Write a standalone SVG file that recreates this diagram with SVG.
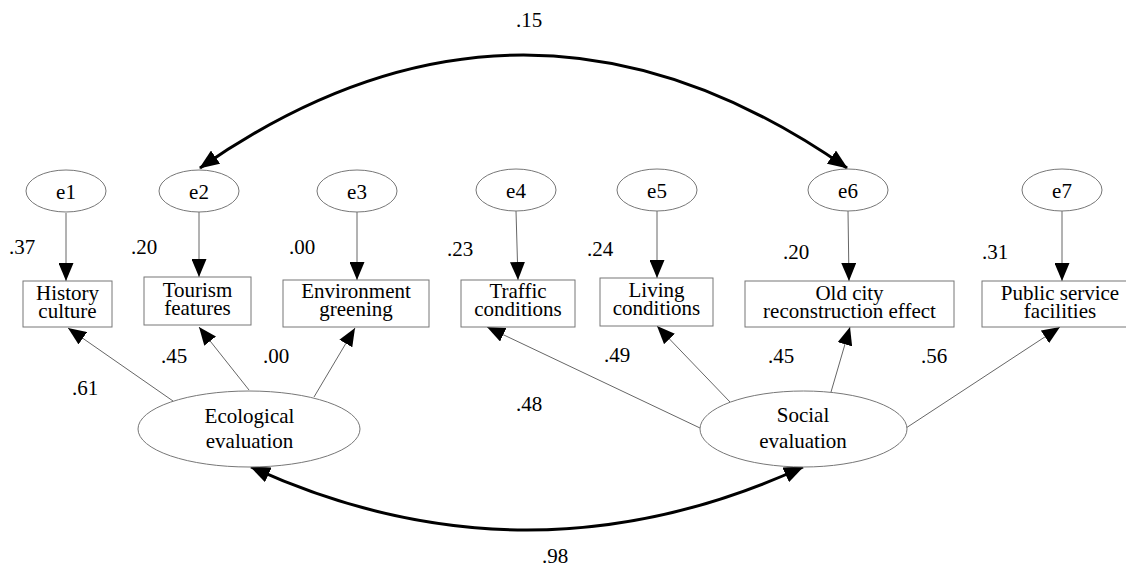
<svg xmlns="http://www.w3.org/2000/svg" width="1126" height="571" viewBox="0 0 1126 571">
<style>
text{font-family:"Liberation Serif","Times New Roman",Times,"DejaVu Serif",serif;font-size:21px;fill:#000;text-anchor:middle}
.n{text-anchor:start}
.box{fill:#fff;stroke:#777;stroke-width:1}
.ell{fill:#fff;stroke:#777;stroke-width:1}
.path{stroke:#666;stroke-width:1;fill:none;marker-end:url(#ah)}
.cov{stroke:#000;stroke-width:3;fill:none;marker-start:url(#ch);marker-end:url(#ch)}
</style>
<defs>
<marker id="ah" markerUnits="userSpaceOnUse" markerWidth="18" markerHeight="15" refX="18" refY="7.5" orient="auto">
<path d="M0,0 L18,7.5 L0,15 z" fill="#000"/>
</marker>
<marker id="ch" markerUnits="userSpaceOnUse" markerWidth="20" markerHeight="16" refX="19" refY="8" orient="auto-start-reverse">
<path d="M0,0 L20,8 L0,16 z" fill="#000"/>
</marker>
</defs>
<rect width="1126" height="571" fill="#fff"/>
<g id="connectors">
<line class="path" x1="66" y1="213" x2="66" y2="281"/>
<line class="path" x1="199" y1="212" x2="199" y2="277"/>
<line class="path" x1="357" y1="212" x2="357" y2="280"/>
<line class="path" x1="516" y1="211" x2="518" y2="280"/>
<line class="path" x1="657" y1="211" x2="657" y2="278"/>
<line class="path" x1="848" y1="211" x2="849" y2="281"/>
<line class="path" x1="1062" y1="211" x2="1062" y2="281"/>
<line class="path" x1="173" y1="401" x2="68" y2="328"/>
<line class="path" x1="249" y1="390" x2="199" y2="327"/>
<line class="path" x1="314" y1="397" x2="355" y2="328"/>
<line class="path" x1="700" y1="428" x2="487" y2="327"/>
<line class="path" x1="730" y1="402" x2="657" y2="326"/>
<line class="path" x1="831" y1="392" x2="850" y2="327"/>
<line class="path" x1="906" y1="428" x2="1060" y2="327"/>
<path class="cov" d="M200,168 Q523.5,-58 847,168"/>
<path class="cov" d="M251,467 Q527,593 803,467"/>
</g>
<g id="labels">
<text x="529" y="27">.15</text>
<text x="555" y="563">.98</text>
<text class="n" x="9" y="254">.37</text>
<text class="n" x="131" y="254">.20</text>
<text class="n" x="289" y="254">.00</text>
<text class="n" x="447" y="256">.23</text>
<text class="n" x="587" y="256">.24</text>
<text class="n" x="783" y="259">.20</text>
<text class="n" x="982" y="259">.31</text>
<text class="n" x="72" y="395">.61</text>
<text class="n" x="161" y="363">.45</text>
<text class="n" x="263" y="363">.00</text>
<text class="n" x="516" y="411">.48</text>
<text class="n" x="604" y="362">.49</text>
<text class="n" x="768" y="363">.45</text>
<text class="n" x="921" y="363">.56</text>
</g>
<g id="e1"><ellipse class="ell" cx="66" cy="191" rx="40" ry="21"/><text x="66" y="199">e1</text></g>
<g id="e2"><ellipse class="ell" cx="199" cy="191" rx="40" ry="21"/><text x="199" y="199">e2</text></g>
<g id="e3"><ellipse class="ell" cx="357" cy="191" rx="40" ry="21"/><text x="357" y="199">e3</text></g>
<g id="e4"><ellipse class="ell" cx="516" cy="190" rx="40" ry="21"/><text x="516" y="198">e4</text></g>
<g id="e5"><ellipse class="ell" cx="657" cy="190" rx="40" ry="21"/><text x="657" y="198">e5</text></g>
<g id="e6"><ellipse class="ell" cx="848" cy="190" rx="40" ry="21"/><text x="848" y="198">e6</text></g>
<g id="e7"><ellipse class="ell" cx="1062" cy="190" rx="40" ry="21"/><text x="1062" y="198">e7</text></g>
<g id="history"><rect class="box" x="23" y="281" width="89" height="46"/><text x="67.5" y="300">History</text><text x="67.5" y="318">culture</text></g>
<g id="tourism"><rect class="box" x="144" y="277" width="107" height="48"/><text x="197.5" y="297">Tourism</text><text x="197.5" y="315">features</text></g>
<g id="environment"><rect class="box" x="283" y="280" width="146" height="47"/><text x="356" y="298">Environment</text><text x="356" y="316">greening</text></g>
<g id="traffic"><rect class="box" x="461" y="280" width="114" height="47"/><text x="518" y="298">Traffic</text><text x="518" y="316">conditions</text></g>
<g id="living"><rect class="box" x="600" y="278" width="113" height="48"/><text x="656.5" y="297">Living</text><text x="656.5" y="315">conditions</text></g>
<g id="oldcity"><rect class="box" x="745" y="281" width="209" height="46"/><text x="849.5" y="300">Old city</text><text x="849.5" y="318">reconstruction effect</text></g>
<g id="public"><rect class="box" x="982" y="281" width="160" height="46"/><text x="1060" y="300">Public service</text><text x="1060" y="318">facilities</text></g>
<g id="ecological"><ellipse class="ell" cx="249" cy="429" rx="111" ry="38"/><text x="249.5" y="423">Ecological</text><text x="249.5" y="448">evaluation</text></g>
<g id="social"><ellipse class="ell" cx="803.5" cy="429" rx="103.5" ry="38"/><text x="803" y="422">Social</text><text x="803" y="448">evaluation</text></g>
</svg>
